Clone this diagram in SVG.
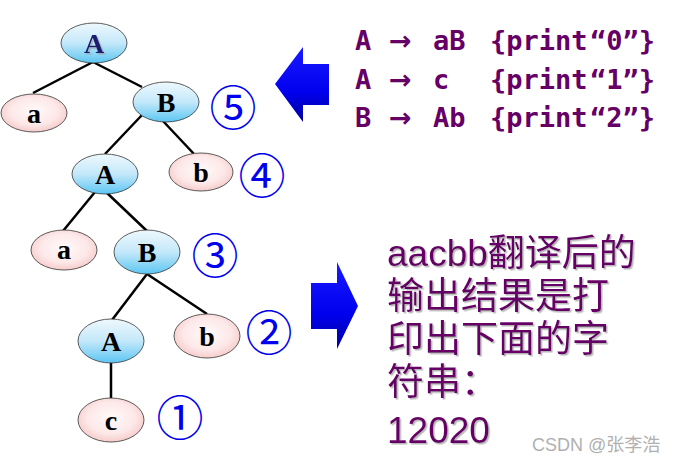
<svg xmlns="http://www.w3.org/2000/svg" width="678" height="464" viewBox="0 0 678 464">
<defs>
<linearGradient id="gBlue" x1="0" y1="0" x2="0" y2="1">
<stop offset="0" stop-color="#eef8fd"/>
<stop offset="0.5" stop-color="#c4e8fa"/>
<stop offset="1" stop-color="#5cc6f2"/>
</linearGradient>
<radialGradient id="gPink" cx="0.5" cy="0.45" r="0.6">
<stop offset="0" stop-color="#fffafa"/>
<stop offset="0.6" stop-color="#fde8e8"/>
<stop offset="1" stop-color="#f4c4c4"/>
</radialGradient>
<linearGradient id="gArrow" x1="0" y1="0" x2="0" y2="1">
<stop offset="0" stop-color="#1a1aff"/>
<stop offset="0.6" stop-color="#0000ee"/>
<stop offset="1" stop-color="#0000a0"/>
</linearGradient>
<filter id="sh" x="-10%" y="-10%" width="130%" height="130%">
<feDropShadow dx="1.5" dy="1.5" stdDeviation="0.6" flood-color="#999" flood-opacity="0.7"/>
</filter>
</defs>
<style>
.edge{stroke:#000;stroke-width:2.5;fill:none}
.nb{fill:url(#gBlue);stroke:#333;stroke-width:0.8}
.np{fill:url(#gPink);stroke:#333;stroke-width:0.8}
.lbl{font-family:"Liberation Serif","Times New Roman",serif;font-weight:bold;font-size:28px;text-anchor:middle;fill:#000}
.num{font-family:"Noto Sans CJK SC","DejaVu Sans",sans-serif;font-size:47px;font-weight:normal;fill:#0000ee;text-anchor:middle;dominant-baseline:central}
.rule{font-family:"DejaVu Sans Mono","Liberation Mono",monospace;font-weight:bold;font-size:27px;fill:#660066}
.ar{font-family:"DejaVu Sans",sans-serif;font-weight:bold}
.cn{font-family:"Liberation Sans","Noto Sans CJK SC",sans-serif;font-size:37px;fill:#660066;filter:url(#sh)}
.wm{font-family:"Liberation Sans","Noto Sans CJK SC",sans-serif;font-size:18px;fill:#b0b0b0}
.arr{fill:url(#gArrow)}
</style>
<g id="connectors">
<line class="edge" x1="93" y1="62" x2="33" y2="93"/>
<line class="edge" x1="93" y1="62" x2="142" y2="87"/>
<line class="edge" x1="142" y1="115" x2="105" y2="154"/>
<line class="edge" x1="163" y1="121" x2="194" y2="154"/>
<line class="edge" x1="95" y1="192" x2="63" y2="231"/>
<line class="edge" x1="106" y1="192" x2="147" y2="231"/>
<line class="edge" x1="147" y1="274" x2="112" y2="320"/>
<line class="edge" x1="147" y1="274" x2="207" y2="314"/>
<line class="edge" x1="111" y1="362" x2="111" y2="398"/>
</g>
<g id="n1"><ellipse class="nb" cx="94" cy="43" rx="33" ry="20"/><text class="lbl" x="94" y="53" style="fill:#1a1a70" filter="url(#sh)">A</text></g>
<g id="n2"><ellipse class="np" cx="34" cy="113" rx="33" ry="19"/><text class="lbl" x="34" y="123">a</text></g>
<g id="n3"><ellipse class="nb" cx="166" cy="102" rx="33" ry="20"/><text class="lbl" x="166" y="112">B</text></g>
<g id="n4"><ellipse class="nb" cx="105" cy="174" rx="33" ry="20"/><text class="lbl" x="105" y="184">A</text></g>
<g id="n5"><ellipse class="np" cx="201" cy="172" rx="32" ry="19"/><text class="lbl" x="201" y="182">b</text></g>
<g id="n6"><ellipse class="np" cx="64" cy="250" rx="33" ry="20"/><text class="lbl" x="64" y="259">a</text></g>
<g id="n7"><ellipse class="nb" cx="147" cy="252" rx="33" ry="22"/><text class="lbl" x="147" y="262">B</text></g>
<g id="n8"><ellipse class="nb" cx="111" cy="341" rx="33" ry="22"/><text class="lbl" x="111" y="351">A</text></g>
<g id="n9"><ellipse class="np" cx="207" cy="336" rx="33" ry="22"/><text class="lbl" x="207" y="346">b</text></g>
<g id="n10"><ellipse class="np" cx="111" cy="420" rx="33" ry="22"/><text class="lbl" x="111" y="430">c</text></g>
<g id="marks">
<text class="num" x="233" y="104">⑤</text>
<text class="num" x="262" y="172">④</text>
<text class="num" x="215" y="252">③</text>
<text class="num" x="269" y="329">②</text>
<text class="num" x="180" y="414">①</text>
</g>
<g id="arrows">
<polygon class="arr" points="275,84 303,47 303,64 329,64 329,105 303,105 303,122"/>
<polygon class="arr" points="311,283 337,283 337,262 358,306 337,349 337,329 311,329"/>
</g>
<g id="rules">
<text class="rule" y="50"><tspan x="355">A</tspan><tspan class="ar" x="389">→</tspan><tspan x="433">aB</tspan><tspan x="490">{print</tspan><tspan x="590">“0”}</tspan></text>
<text class="rule" y="89"><tspan x="355">A</tspan><tspan class="ar" x="389">→</tspan><tspan x="433">c</tspan><tspan x="490">{print</tspan><tspan x="590">“1”}</tspan></text>
<text class="rule" y="127"><tspan x="355">B</tspan><tspan class="ar" x="389">→</tspan><tspan x="433">Ab</tspan><tspan x="490">{print</tspan><tspan x="590">“2”}</tspan></text>
</g>
<g id="result">
<text class="cn" x="387" y="266">aacbb翻译后的</text>
<text class="cn" x="387" y="309">输出结果是打</text>
<text class="cn" x="387" y="352">印出下面的字</text>
<text class="cn" x="387" y="395">符串：</text>
<text class="cn" x="387" y="443">12020</text>
</g>
<text class="wm" x="532" y="451">CSDN @张李浩</text>
</svg>
